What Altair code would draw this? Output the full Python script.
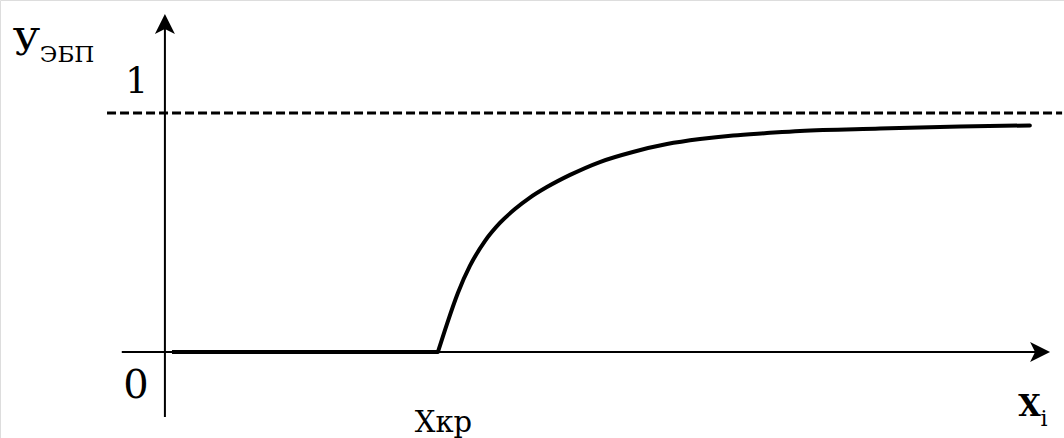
import altair as alt
import pandas as pd

# Response curve: zero up to the critical value, then saturating towards 1
flat_x = [0.026, 1.000]
flat_y = [0.000, 0.000]

rise_x = [1.000, 1.033, 1.073, 1.117, 1.172, 1.227, 1.282, 1.337, 1.399, 1.484,
          1.593, 1.714, 1.839, 1.960, 2.081, 2.205, 2.326, 2.619, 2.912, 3.168]
rise_y = [0.000, 0.117, 0.247, 0.360, 0.464, 0.540, 0.598, 0.646, 0.690, 0.741,
          0.795, 0.837, 0.870, 0.891, 0.906, 0.916, 0.925, 0.935, 0.944, 0.948]

asymptote = 1.0
x_crit = 1.0

X_DOM = [-0.604, 3.293]
Y_DOM = [-0.360, 1.473]

xs = alt.Scale(domain=X_DOM, nice=False, zero=False, clamp=False)
ys = alt.Scale(domain=Y_DOM, nice=False, zero=False, clamp=False)


def X(field="x"):
    return alt.X(f"{field}:Q", scale=xs, axis=None)


def Y(field="y"):
    return alt.Y(f"{field}:Q", scale=ys, axis=None)


flat = alt.Chart(pd.DataFrame({"x": flat_x, "y": flat_y})).mark_line(
    color="black", strokeWidth=4, strokeCap="butt"
).encode(x=X(), y=Y(), order="x:Q")

rise = alt.Chart(pd.DataFrame({"x": rise_x, "y": rise_y})).mark_line(
    color="black", strokeWidth=4, strokeCap="round", interpolate="monotone"
).encode(x=X(), y=Y(), order="x:Q")

# Axes drawn as plain lines with arrow heads
x_axis = alt.Chart(pd.DataFrame({"x": [-0.158], "x2": [3.225], "y": [0.0]})).mark_rule(
    color="black", strokeWidth=2
).encode(x=X(), x2="x2:Q", y=Y())

y_axis = alt.Chart(pd.DataFrame({"y": [-0.272], "y2": [1.39], "x": [0.0]})).mark_rule(
    color="black", strokeWidth=2
).encode(y=Y(), y2="y2:Q", x=X())

up_head = alt.Chart(pd.DataFrame({"x": [0.0], "y": [1.414]})).mark_point(
    shape="M0,0 L1,2 L0,1.5 L-1,2 Z", size=400, filled=True, opacity=1,
    color="black", strokeWidth=0
).encode(x=X(), y=Y())

right_head = alt.Chart(pd.DataFrame({"x": [3.242], "y": [0.0]})).mark_point(
    shape="M0,0 L-2,1 L-1.5,0 L-2,-1 Z", size=400, filled=True, opacity=1,
    color="black", strokeWidth=0
).encode(x=X(), y=Y())

dashed = alt.Chart(pd.DataFrame({"x": [-0.212], "x2": [3.286], "y": [asymptote]})).mark_rule(
    color="black", strokeWidth=2.8, strokeDash=[9, 4]
).encode(x=X(), x2="x2:Q", y=Y())

FONT = "DejaVu Serif"


def label(x, y, text, size, align="left", bold=False):
    return alt.Chart(pd.DataFrame({"x": [x], "y": [y], "t": [text]})).mark_text(
        font=FONT, fontSize=size, align=align, baseline="alphabetic",
        fontWeight="bold" if bold else "normal", color="black"
    ).encode(x=X(), y=Y(), text="t:N")


labels = [
    label(-0.557, 1.243, "У", 38),
    label(-0.458, 1.213, "ЭБП", 23),
    label(-0.103, asymptote + 0.084, "1", 36, align="center"),
    label(-0.106, -0.193, "0", 40, align="center"),
    label(x_crit - 0.085, -0.335, "Хкр", 29),
    label(3.125, -0.270, "X", 29, bold=True),
    label(3.207, -0.310, "i", 22),
]

chart = alt.layer(dashed, x_axis, y_axis, flat, rise, up_head, right_head, *labels).properties(
    width=1064, height=438, padding=0, autosize=alt.AutoSizeParams(type="none")
).configure_view(stroke=None).configure(background="white")

chart.save("out.html", embed_options={"renderer": "svg", "actions": False})
